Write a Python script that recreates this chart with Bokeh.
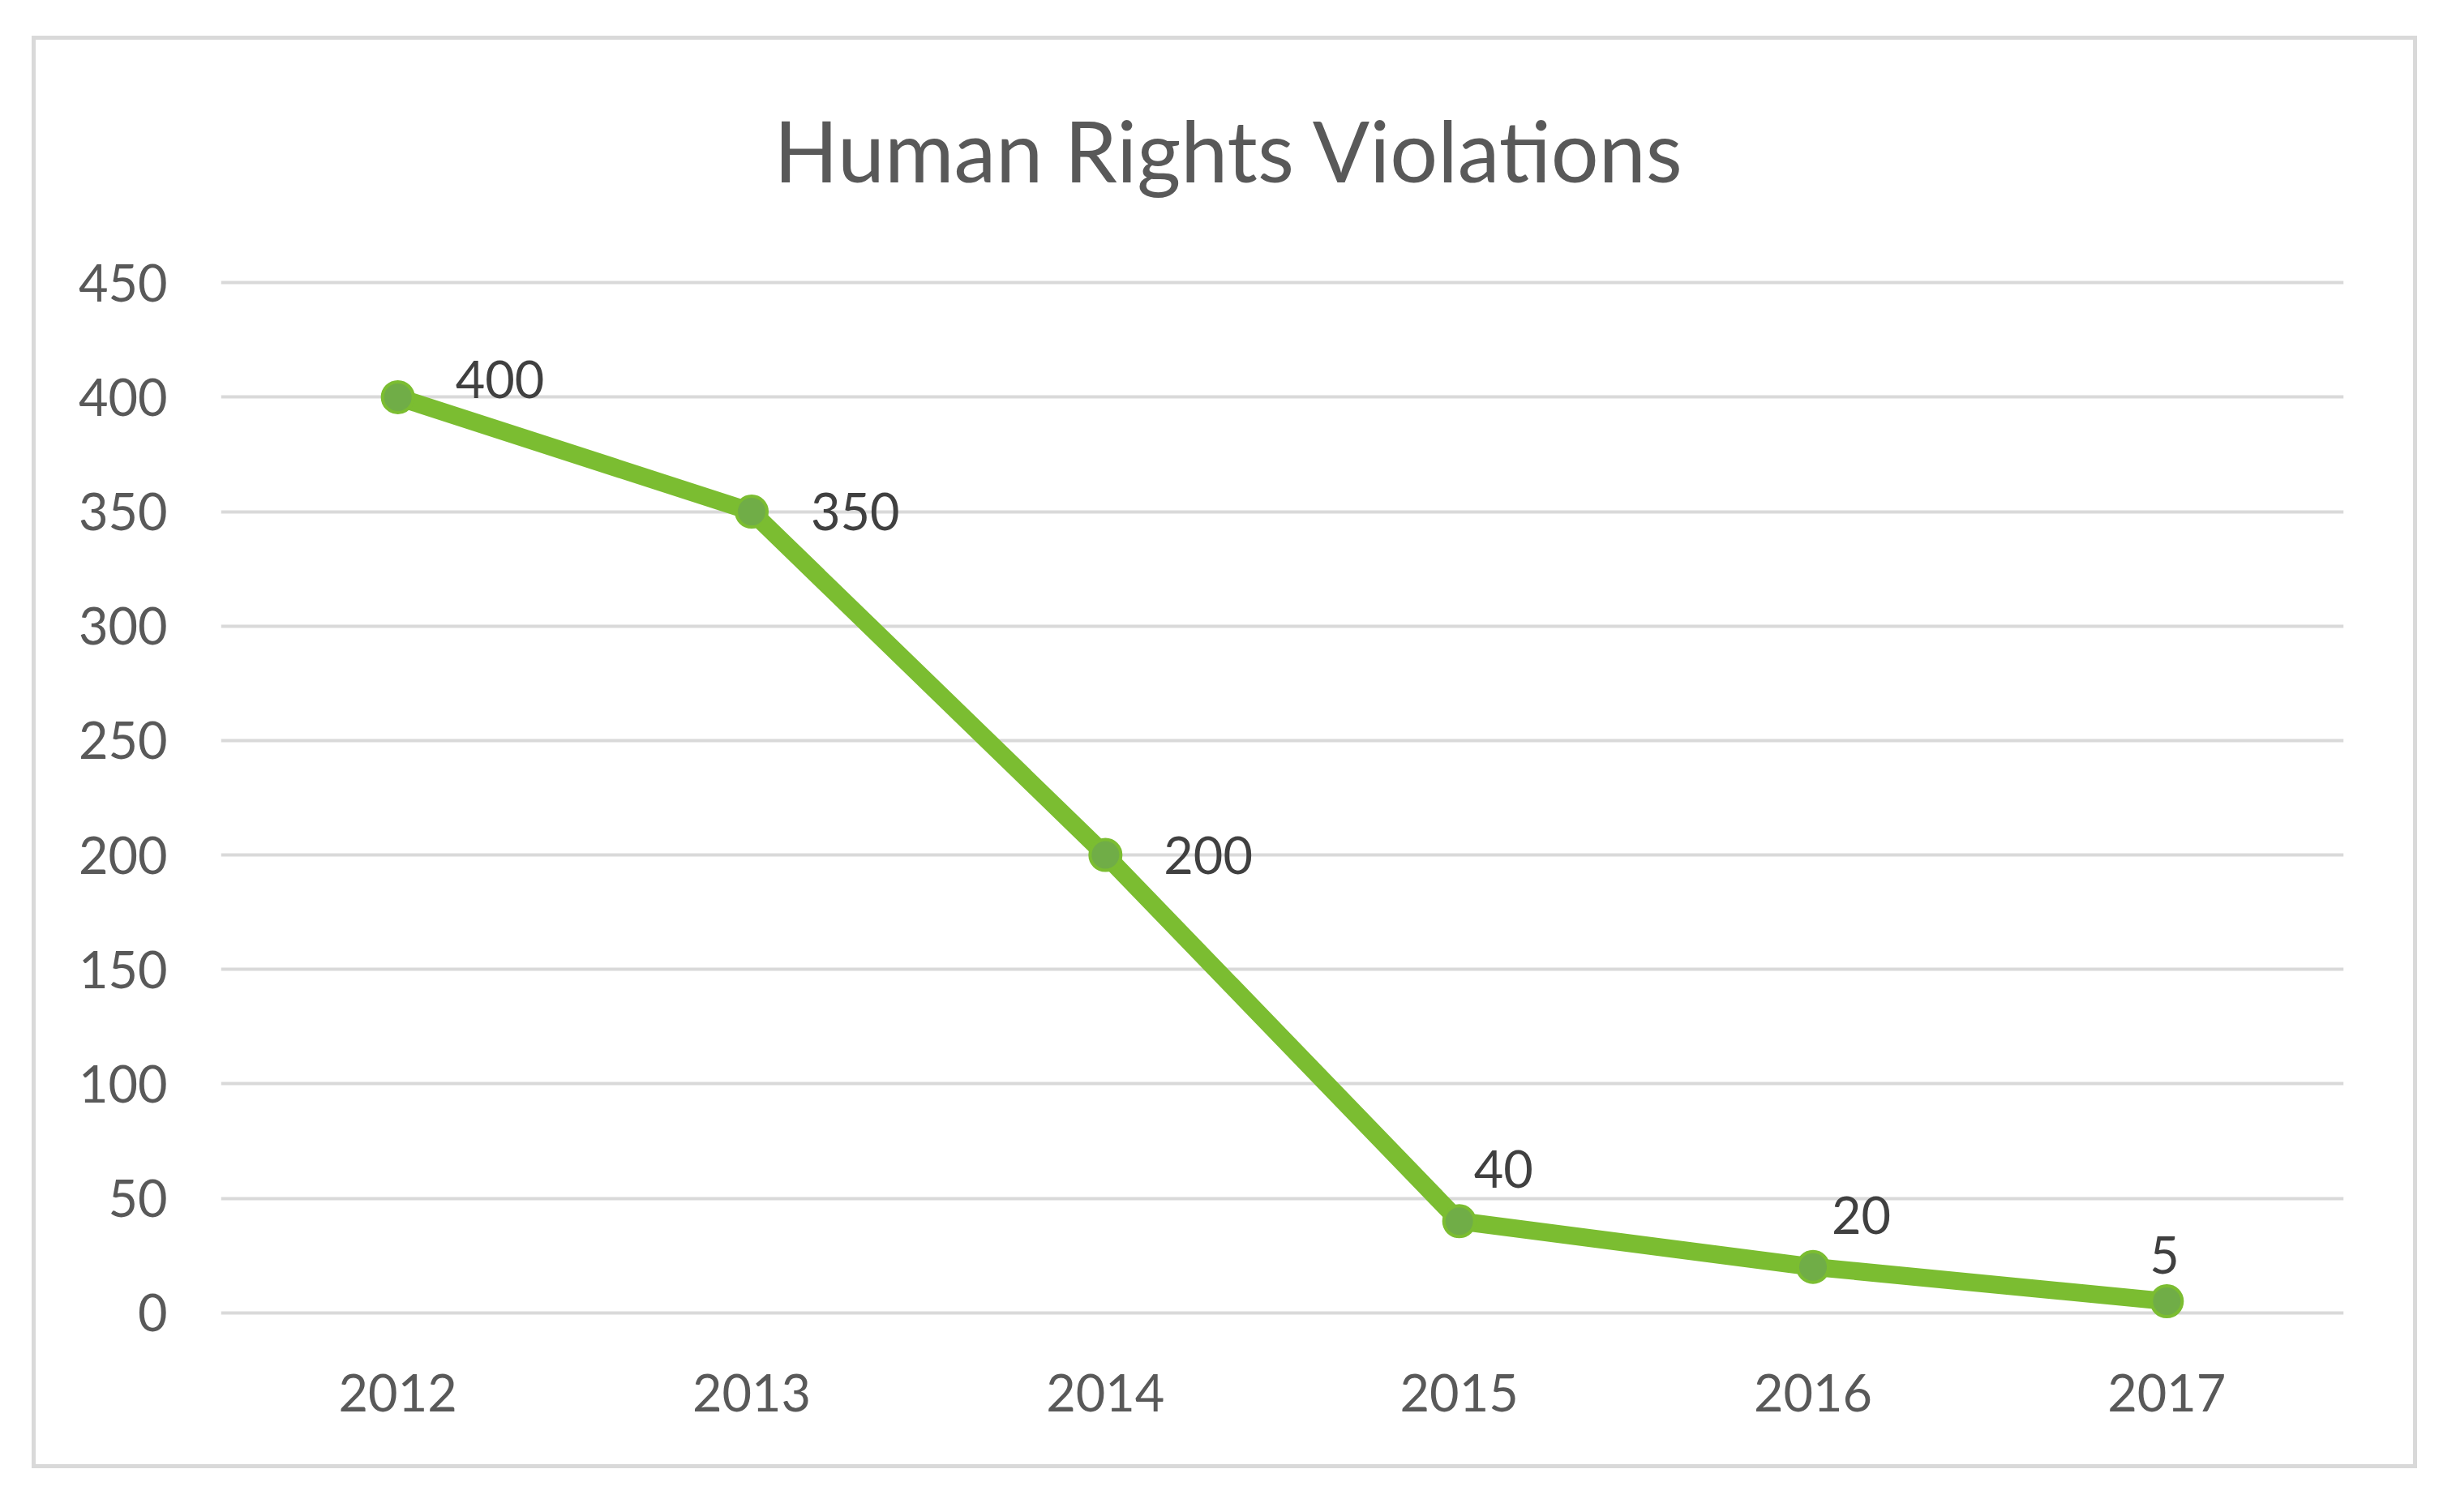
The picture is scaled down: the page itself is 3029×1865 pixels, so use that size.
from bokeh.plotting import figure
from bokeh.models import ColumnDataSource, FactorRange, Range1d, FixedTicker
from bokeh.embed import file_html
from bokeh.resources import INLINE
from bokeh.core.properties import value

# ---- data ----
TITLE = "Human Rights Violations"
YEARS = ["2012", "2013", "2014", "2015", "2016", "2017"]
VIOLATIONS = [400, 350, 200, 40, 20, 5]
Y_TICKS = [0, 50, 100, 150, 200, 250, 300, 350, 400, 450]

# ---- label placement (screen px offsets from each point) ----
LABEL_DX = [71, 73, 72, 18, 23, -21]
LABEL_DY = [-22, 0, 0, -64, -64, -57]

FONT = "Lato"
TXT = "#595959"
LBL = "#404040"
GRID = "#D9D9D9"
LINE = "#7BBD31"
MARK = "#70AD47"

W, H = 3020, 1855
FL, FR, FT, FB = 272, 2890, 337, 1630

p = figure(
    width=W, height=H,
    x_range=FactorRange(*YEARS, range_padding=0),
    y_range=Range1d(-4, 454),
    output_backend="svg", toolbar_location=None,
    min_border_left=FL, min_border_right=W - FR,
    min_border_top=FT, min_border_bottom=H - FB,
    title=TITLE,
)
p.outline_line_color = None
p.background_fill_color = "white"
p.border_fill_alpha = 0

# outer chart border (drawn behind the transparent canvas border area)
_g = "linear-gradient(%s,%s)" % (GRID, GRID)
p.styles = {
    "background": ", ".join([
        _g + " 39px 44px / 2942px 5px no-repeat",
        _g + " 39px 1806px / 2942px 5px no-repeat",
        _g + " 39px 44px / 5px 1767px no-repeat",
        _g + " 2976px 44px / 5px 1767px no-repeat",
        "white",
    ])
}

p.title.align = "left"
p.title.offset = 682
p.title.standoff = 182
p.title.text_font = FONT
p.title.text_font_size = "104px"
p.title.text_font_style = "normal"
p.title.text_color = TXT

# axes
for ax in (p.xaxis[0], p.yaxis[0]):
    ax.axis_line_color = None
    ax.major_tick_line_color = None
    ax.minor_tick_line_color = None
    ax.major_tick_in = 0
    ax.major_tick_out = 0
    ax.major_label_text_font = FONT
    ax.major_label_text_font_size = "63px"
    ax.major_label_text_color = TXT
p.yaxis[0].ticker = FixedTicker(ticks=Y_TICKS)
p.yaxis[0].major_label_standoff = 66
p.xaxis[0].major_label_standoff = 64

p.xgrid.grid_line_color = None
p.ygrid.grid_line_color = GRID
p.ygrid.grid_line_width = 4

src = ColumnDataSource(dict(x=YEARS, y=VIOLATIONS, t=[str(v) for v in VIOLATIONS],
                            dx=LABEL_DX, dy=LABEL_DY))

p.line("x", "y", source=src, line_color=LINE, line_width=22, line_join="round", line_cap="round")
p.scatter("x", "y", source=src, size=38, marker="circle", fill_color=MARK, line_color=LINE, line_width=4)
p.text("x", "y", text="t", source=src, x_offset="dx", y_offset="dy",
       text_font=value(FONT), text_font_size="63px", text_color=LBL,
       text_align="left", text_baseline="alphabetic")

open("out.html", "w").write(file_html(p, INLINE))
